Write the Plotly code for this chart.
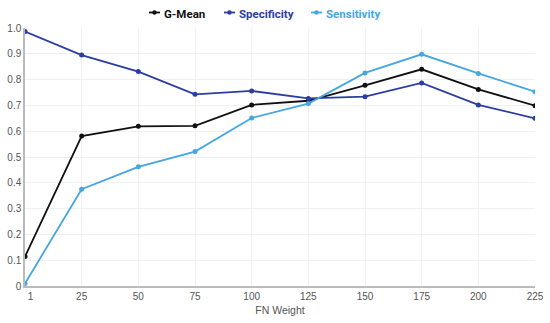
import plotly.graph_objects as go

categories = ["1", "25", "50", "75", "100", "125", "150", "175", "200", "225"]
g_mean = [0.114, 0.581, 0.619, 0.621, 0.702, 0.718, 0.778, 0.840, 0.762, 0.699]
specificity = [0.986, 0.895, 0.831, 0.743, 0.756, 0.727, 0.734, 0.787, 0.702, 0.650]
sensitivity = [0.010, 0.375, 0.462, 0.521, 0.651, 0.707, 0.826, 0.898, 0.824, 0.753]
y_ticks = [0, 0.1, 0.2, 0.3, 0.4, 0.5, 0.6, 0.7, 0.8, 0.9, 1.0]
y_tick_labels = ["0", "0.1", "0.2", "0.3", "0.4", "0.5", "0.6", "0.7", "0.8", "0.9", "1.0"]

series_names = ["G-Mean", "Specificity", "Sensitivity"]
series_values = [g_mean, specificity, sensitivity]
series_colors = ["#111111", "#2B3DA0", "#47A6E0"]
legend_text_px = [162, 237, 324]  # left edge of each legend label (pixels)

W, H = 550, 323
ML, MR, MT, MB = 25, 15, 28, 37
PW, PH = W - ML - MR, H - MT - MB


def px_to_paper_x(px):
    return (px - ML) / PW


def py_to_paper_y(py):
    return (H - MB - py) / PH


xs = list(range(len(categories)))
tick_text = ["\u2007\u20071"] + categories[1:]
fig = go.Figure()
annotations = []
shapes = []
for name, vals, col, tx in zip(series_names, series_values, series_colors, legend_text_px):
    fig.add_trace(go.Scatter(
        x=xs, y=vals, name=name, mode="lines+markers",
        line=dict(color=col, width=1.8),
        marker=dict(color=col, size=5),
        showlegend=False,
    ))
    # legend label
    annotations.append(dict(
        text=name, xref="paper", yref="paper",
        x=px_to_paper_x(tx), y=py_to_paper_y(14.5), xanchor="left", yanchor="middle",
        showarrow=False, font=dict(family="Roboto, sans-serif", size=11.5, weight="bold", color=col),
    ))
    # legend symbol: short line with a dot
    sx0, sx1, sy = tx - 13, tx - 2, 12.5
    shapes.append(dict(type="line", xref="paper", yref="paper",
                       x0=px_to_paper_x(sx0), x1=px_to_paper_x(sx1),
                       y0=py_to_paper_y(sy), y1=py_to_paper_y(sy),
                       line=dict(color=col, width=1.8)))
    cx = (sx0 + sx1) / 2
    shapes.append(dict(type="circle", xref="paper", yref="paper",
                       x0=px_to_paper_x(cx - 2.2), x1=px_to_paper_x(cx + 2.2),
                       y0=py_to_paper_y(sy + 2.2), y1=py_to_paper_y(sy - 2.2),
                       fillcolor=col, line=dict(color=col, width=0)))

fig.update_layout(
    width=W, height=H,
    margin=dict(l=ML, r=MR, t=MT, b=MB),
    paper_bgcolor="white", plot_bgcolor="white",
    font=dict(family="Liberation Sans, Arial, sans-serif", size=10, color="#555555"),
    showlegend=False,
    annotations=annotations,
    shapes=shapes,
)
fig.update_xaxes(
    range=[0, 9], tickmode="array", tickvals=xs, ticktext=tick_text,
    showgrid=True, gridcolor="#EEF1F4", gridwidth=1,
    showline=True, linecolor="#BBBBBB", linewidth=1.5,
    ticks="", zeroline=False, automargin=False,
    title=dict(text="FN Weight", font=dict(size=10.5, color="#555555"), standoff=6),
)
fig.update_yaxes(
    range=[0, 1.0], tickmode="array", tickvals=y_ticks, ticktext=y_tick_labels,
    showgrid=True, gridcolor="#EEF1F4", gridwidth=1,
    showline=True, linecolor="#BBBBBB", linewidth=1.5,
    ticks="", zeroline=False, automargin=False,
)

fig.write_html("out.html", config={"displayModeBar": False},
               post_script="document.body.style.margin='0';")
